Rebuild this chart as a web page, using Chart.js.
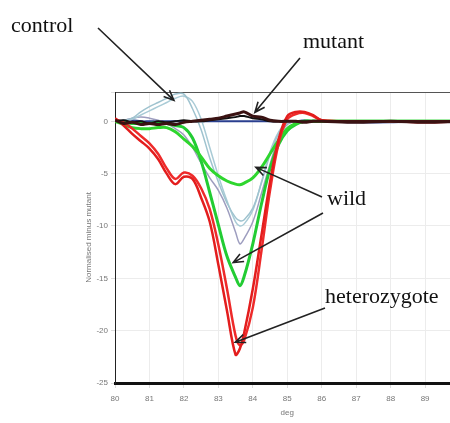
<!DOCTYPE html>
<html>
<head>
<meta charset="utf-8">
<script src="https://cdn.jsdelivr.net/npm/chart.js@4.4.1/dist/chart.umd.min.js"></script>
<style>
  body { margin: 0; background: #fff; overflow: hidden; }
  #wrap { position: relative; width: 450px; height: 423px; overflow: hidden; }
  canvas { position: absolute; left: 0; top: 0; }
  .note { position: absolute; font-family: "Liberation Serif", "DejaVu Serif", serif; font-size: 22px; line-height: 1; color: #111; white-space: nowrap; }
</style>
</head>
<body>
<div id="wrap">
  <canvas id="melt" width="470" height="423"></canvas>
  <div class="note" style="left:11px; top:14px;">control</div>
  <div class="note" style="left:303px; top:30px;">mutant</div>
  <div class="note" style="left:327px; top:187px;">wild</div>
  <div class="note" style="left:325px; top:285px;">heterozygote</div>
</div>
<script>
// temperature (deg) shared by every trace
var temps = [80, 80.25, 80.5, 80.75, 81, 81.25, 81.5, 81.75, 82, 82.25, 82.5, 82.75, 83, 83.25, 83.5, 83.625, 83.75, 84, 84.25, 84.5, 84.75, 85, 85.25, 85.5, 85.75, 86, 87, 88, 89, 90];

// normalised minus mutant
var mutantA = [0.1, -0.2, -0.1, -0.3, -0.2, -0.3, -0.2, -0.3, -0.1, 0, 0.1, 0.2, 0.3, 0.5, 0.7, 0.8, 0.9, 0.5, 0.4, 0.1, 0, 0, 0, -0.1, 0, 0, -0.1, 0, -0.1, 0];
var mutantB = [0, 0.1, -0.1, 0, -0.2, 0, -0.1, 0, 0.1, 0, 0, 0.1, 0.2, 0.3, 0.4, 0.5, 0.5, 0.3, 0.2, 0, 0, 0, 0, 0, 0, 0, 0, 0, 0, 0];
var blueBase = [0, 0, 0.1, 0, 0, 0, 0, 0, 0, 0, 0, 0, 0, 0, 0, 0, 0, 0, 0, 0, 0, -0.1, 0, 0.1, 0, 0, -0.1, -0.1, 0, -0.1];
var hetA = [0.3, -0.4, -1.2, -1.9, -2.6, -3.6, -5.0, -6.0, -5.3, -5.5, -7.3, -9.6, -13.7, -18.1, -22.3, -21.7, -20.2, -16.0, -10.9, -5.8, -1.7, 0.5, 0.9, 0.9, 0.6, 0.1, 0, 0, -0.1, 0];
var hetB = [0.2, -0.1, -0.7, -1.4, -2.1, -3.1, -4.5, -5.5, -4.9, -5.2, -6.4, -8.4, -11.8, -16.0, -20.5, -21.4, -20.9, -17.8, -12.4, -6.6, -2.1, 0.2, 0.7, 0.8, 0.5, 0.1, 0, 0, 0, 0];
var wildShallow = [0, -0.3, -0.6, -0.7, -0.7, -0.6, -0.6, -1.0, -1.7, -2.4, -3.4, -4.5, -5.2, -5.7, -6.0, -6.05, -5.9, -5.4, -4.4, -3.1, -1.8, -0.7, -0.2, 0, 0, 0, 0, 0, 0, 0];
var wildDeep = [0, -0.1, -0.2, -0.2, -0.2, -0.1, -0.2, -0.4, -0.6, -1.6, -3.8, -6.8, -9.9, -12.9, -14.9, -15.7, -14.8, -11.7, -7.9, -4.5, -2.2, -0.9, -0.3, 0, 0, 0, 0, 0, 0, 0];
var controlA = [0, 0.1, 0.3, 0.9, 1.4, 1.8, 2.2, 2.6, 2.6, 1.2, -0.8, -3.5, -5.8, -7.8, -9.2, -9.5, -9.4, -8.3, -5.9, -3.2, -1.2, -0.2, 0, 0, 0.1, 0, 0, 0, 0, 0];
var controlB = [0, 0, 0.2, 0.6, 1.0, 1.4, 1.8, 2.2, 2.4, 1.9, 0.2, -2.5, -5.2, -7.6, -9.6, -10.0, -9.8, -8.5, -5.8, -2.9, -1.0, -0.1, 0, 0.1, 0.1, 0, 0, 0, 0, 0];
var controlC = [0, 0.1, 0.3, 0.4, 0.3, 0.1, -0.2, -0.7, -1.3, -2.5, -4.0, -5.4, -6.6, -8.3, -10.6, -11.7, -11.2, -9.6, -6.9, -4.1, -1.6, -0.3, 0, 0, 0, 0, 0, 0, 0, 0];

var yTicks = [-25, -20, -15, -10, -5, 0];
var yMax = 2.8;

// arrows: tail in page pixels, tip at a data point
var arrows = [
  { fx: 98, fy: 28, tx: 81.71, ty: 2.0 },
  { fx: 300, fy: 58, tx: 84.06, ty: 0.86 },
  { fx: 322, fy: 197, tx: 84.09, ty: -4.4 },
  { fx: 323, fy: 213, tx: 83.43, ty: -13.5 },
  { fx: 325, fy: 308, tx: 83.49, ty: -21.1 }
];

function pts(vals) {
  return temps.map(function (t, i) { return { x: t, y: vals[i] }; });
}

function trace(vals, color, width) {
  return {
    data: pts(vals),
    borderColor: color,
    borderWidth: width,
    pointRadius: 0,
    tension: 0.35,
    fill: false
  };
}

var arrowPlugin = {
  id: 'arrows',
  afterDraw: function (chart) {
    var ctx = chart.ctx;
    var xs = chart.scales.x, ys = chart.scales.y;
    ctx.save();
    ctx.strokeStyle = '#222';
    ctx.lineWidth = 1.6;
    arrows.forEach(function (a) {
      var x2 = xs.getPixelForValue(a.tx), y2 = ys.getPixelForValue(a.ty);
      var ang = Math.atan2(y2 - a.fy, x2 - a.fx);
      ctx.beginPath();
      ctx.moveTo(a.fx, a.fy);
      ctx.lineTo(x2, y2);
      ctx.moveTo(x2 - 11 * Math.cos(ang - 0.4), y2 - 11 * Math.sin(ang - 0.4));
      ctx.lineTo(x2, y2);
      ctx.lineTo(x2 - 11 * Math.cos(ang + 0.4), y2 - 11 * Math.sin(ang + 0.4));
      ctx.stroke();
    });
    ctx.restore();
  }
};

new Chart(document.getElementById('melt'), {
  type: 'line',
  data: {
    datasets: [
      trace(mutantA, '#3a1212', 3),
      trace(mutantB, '#111111', 2),
      trace(hetA, '#e31d1d', 2.5),
      trace(hetB, '#ee2a2a', 2.5),
      trace(wildShallow, '#2ed62e', 3),
      trace(wildDeep, '#22cc33', 3),
      trace(controlA, '#9fc3cf', 1.5),
      trace(controlB, '#a9cbd6', 1.5),
      trace(controlC, '#9d9dbf', 1.5),
      trace(blueBase, '#2a3f8f', 2)
    ]
  },
  options: {
    responsive: false,
    animation: false,
    layout: { padding: { left: 84, top: 92, right: 5, bottom: 0 } },
    plugins: { legend: { display: false }, tooltip: { enabled: false } },
    scales: {
      x: {
        type: 'linear',
        min: 80,
        max: 90,
        afterFit: function (s) { s.height = 40; },
        ticks: { stepSize: 1, color: '#777', font: { size: 8 }, padding: 6 },
        grid: { color: '#ececec', tickLength: 5, tickColor: '#ddd' },
        border: { color: '#111', width: 3 },
        title: { display: true, text: 'deg', color: '#777', font: { size: 8 }, padding: { top: 0, bottom: 5 } }
      },
      y: {
        min: -25,
        max: yMax,
        afterFit: function (s) { s.width = 31; },
        afterBuildTicks: function (s) {
          s.ticks = yTicks.concat([yMax]).map(function (v) { return { value: v }; });
        },
        ticks: {
          color: '#777',
          font: { size: 8 },
          padding: 3,
          callback: function (v) { return v === yMax ? '' : v; }
        },
        grid: {
          color: function (c) { return c.tick && c.tick.value === yMax ? '#555' : '#ececec'; },
          tickLength: 4,
          tickColor: '#ddd'
        },
        border: { color: '#222', width: 1 },
        title: { display: true, text: 'Normalised minus mutant', color: '#777', font: { size: 8 }, padding: 0 }
      }
    }
  },
  plugins: [arrowPlugin]
});
</script>
</body>
</html>
